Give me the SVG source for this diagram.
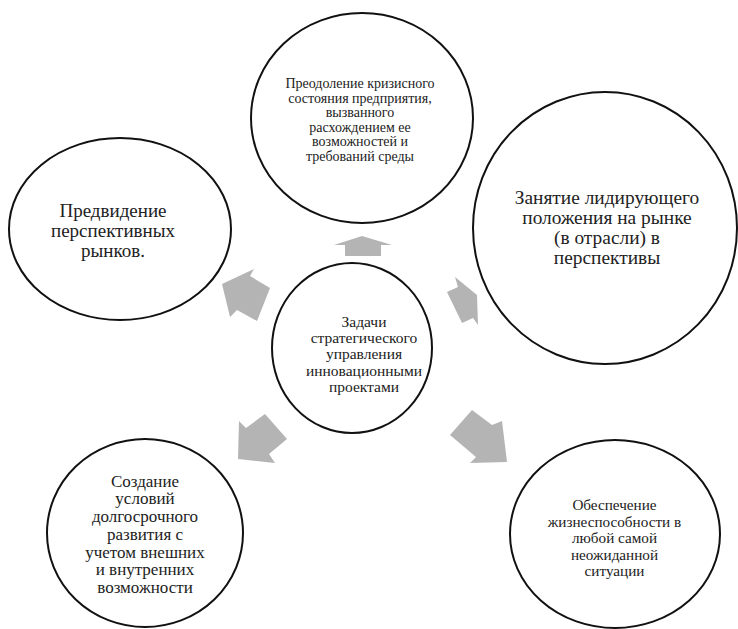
<svg xmlns="http://www.w3.org/2000/svg" width="738" height="629" viewBox="0 0 738 629">
<style>
.c{fill:#fff;stroke:#111;stroke-width:2}
.t{font-family:"Liberation Serif","Times New Roman",serif;fill:#222;text-anchor:middle}
.a{fill:#b4b4b4}
</style>
<rect width="738" height="629" fill="#fff"/>
<g id="connectors">
<polygon class="a" points="362,236 392,245 381,245 381,256 345,256 345,245 334,245"/>
<polygon class="a" points="222,284 254,269 250,276 270,288 257,321 237,310 230,317"/>
<polygon class="a" points="455,277 477,295 478,325 473,318 462,323 447,292 458,287"/>
<polygon class="a" points="239,421 246,428 265,414 287,439 269,454 275,463 238,459"/>
<polygon class="a" points="472,410 492,425 502,421 507,462 470,463 476,457 450,435"/>
</g>
<g id="node-top">
<ellipse class="c" cx="362" cy="118" rx="111" ry="105"/>
<text class="t" font-size="14"><tspan x="360" y="88">Преодоление кризисного</tspan><tspan x="360" y="102.5">состояния предприятия,</tspan><tspan x="360" y="117">вызванного</tspan><tspan x="360" y="131.5">расхождением ее</tspan><tspan x="360" y="146">возможностей и</tspan><tspan x="360" y="160.5">требований среды</tspan></text>
</g>
<g id="node-right">
<ellipse class="c" cx="605" cy="228" rx="132" ry="136"/>
<text class="t" font-size="19.4"><tspan x="607" y="204">Занятие лидирующего</tspan><tspan x="607" y="224">положения на рынке</tspan><tspan x="607" y="244">(в отрасли) в</tspan><tspan x="607" y="264">перспективы</tspan></text>
</g>
<g id="node-left">
<ellipse class="c" cx="120" cy="229" rx="111" ry="91"/>
<text class="t" font-size="19"><tspan x="113" y="217">Предвидение</tspan><tspan x="113" y="237">перспективных</tspan><tspan x="113" y="257">рынков.</tspan></text>
</g>
<g id="node-center">
<ellipse class="c" cx="352" cy="348" rx="80" ry="85"/>
<text class="t" font-size="15.5"><tspan x="364" y="326.7">Задачи</tspan><tspan x="364" y="343">стратегического</tspan><tspan x="364" y="359.3">управления</tspan><tspan x="364" y="375.6">инновационными</tspan><tspan x="364" y="392">проектами</tspan></text>
</g>
<g id="node-bottom-left">
<ellipse class="c" cx="145" cy="533" rx="98" ry="94"/>
<text class="t" font-size="17"><tspan x="145" y="486.7">Создание</tspan><tspan x="145" y="504.4">условий</tspan><tspan x="145" y="522.1">долгосрочного</tspan><tspan x="145" y="539.8">развития с</tspan><tspan x="145" y="557.5">учетом внешних</tspan><tspan x="145" y="575.2">и внутренних</tspan><tspan x="145" y="592.9">возможности</tspan></text>
</g>
<g id="node-bottom-right">
<ellipse class="c" cx="615" cy="534" rx="105" ry="94"/>
<text class="t" font-size="15.2"><tspan x="614.5" y="510">Обеспечение</tspan><tspan x="614.5" y="526.5">жизнеспособности в</tspan><tspan x="614.5" y="543">любой самой</tspan><tspan x="614.5" y="559.5">неожиданной</tspan><tspan x="614.5" y="576">ситуации</tspan></text>
</g>
</svg>
